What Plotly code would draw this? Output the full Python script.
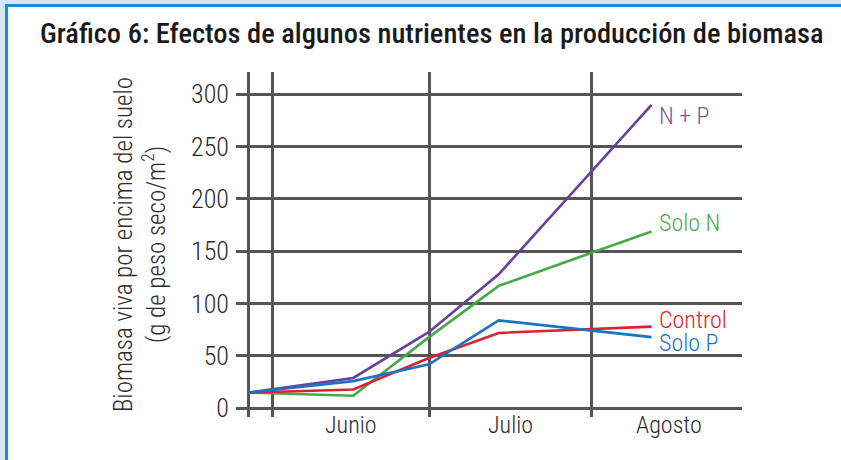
import plotly.graph_objects as go

# Sampling dates (season start, mid-June, start of July, mid-July, mid-August)
dates = ["2000-05-27 12:00", "2000-06-16 12:00", "2000-07-01 00:00",
         "2000-07-14 08:00", "2000-08-12 14:00"]

# Above-ground live biomass (g dry weight / m²)
np_vals = [15, 29, 73, 128, 290]
solo_n = [15, 12, 68, 117, 169]
control = [15, 18, 48, 72, 78]
solo_p = [15, 26, 42, 84, 68]

series_names = ["N + P", "Solo N", "Control", "Solo P"]
series_vals = [np_vals, solo_n, control, solo_p]
line_colors = ["#6b3f98", "#47a847", "#d9232e", "#1b74c0"]
label_colors = ["#7a52a6", "#4cab4a", "#d9232e", "#1b74c0"]
label_y = [279, 177, 84, 62]

months = ["Junio", "Julio", "Agosto"]
month_mid = ["2000-06-16 00:00", "2000-07-16 12:00", "2000-08-16 00:00"]
grid_dates = ["2000-05-27 10:00", "2000-06-01", "2000-07-01", "2000-08-01"]

y_ticks = [0, 50, 100, 150, 200, 250, 300]

FONT = "Roboto Condensed, Liberation Sans, Arial, sans-serif"
GRID = "#555555"
TXT = "#2b2b2b"
LIGHT = 300

fig = go.Figure()
for name, vals, col in zip(series_names, series_vals, line_colors):
    fig.add_trace(go.Scatter(x=dates, y=vals, mode="lines", name=name,
                             line=dict(color=col, width=2.6),
                             showlegend=False, hoverinfo="skip"))

annotations = []
for name, vals, col, ly in zip(series_names, series_vals, label_colors, label_y):
    annotations.append(dict(x=dates[-1], y=ly, xref="x", yref="y", text=name,
                            showarrow=False, xanchor="left", yanchor="middle",
                            xshift=5, font=dict(family=FONT, size=24, color=col,
                                                weight=LIGHT)))
for m, mx in zip(months, month_mid):
    annotations.append(dict(x=mx, y=0, xref="x", yref="paper", text=m,
                            showarrow=False, xanchor="center", yanchor="top",
                            yshift=8, font=dict(family=FONT, size=24, color=TXT,
                                                weight=LIGHT)))

# page background and framed white panel
W, H = 841 - 236 - 99, 460 - 72 - 43
def px(x):
    return (x - 236) / W
def py(y):
    return (417 - y) / H

shapes = [dict(type="rect", xref="paper", yref="paper", layer="below",
               x0=px(6.5), x1=px(860), y0=py(5.5), y1=py(480),
               fillcolor="white", line=dict(color="#1b8dd0", width=3))]

fig.update_layout(
    width=841, height=460,
    margin=dict(l=236, r=99, t=72, b=43),
    paper_bgcolor="#dde6f0",
    plot_bgcolor="rgba(0,0,0,0)",
    title=dict(text="Gráfico 6: Efectos de algunos nutrientes en la producción de biomasa",
               x=40 / 841, xanchor="left", xref="container",
               y=1 - 33 / 460, yanchor="middle", yref="container",
               font=dict(family=FONT, size=28.5, color="#1a1a1a", weight=500)),
    xaxis=dict(type="date", range=["2000-05-25 01:30", "2000-08-29 21:30"],
               tickvals=grid_dates, ticktext=["", "", "", ""],
               showgrid=True, gridcolor=GRID, gridwidth=2.5,
               zeroline=False, showline=False, ticks="", fixedrange=True),
    yaxis=dict(range=[-8.3, 321.3], tickvals=y_ticks,
               showgrid=True, gridcolor=GRID, gridwidth=2.5,
               zeroline=False, showline=False, ticks="",
               ticklabelstandoff=6,
               tickfont=dict(family=FONT, size=26, color=TXT, weight=LIGHT),
               title=dict(text="Biomasa viva por encima del suelo<br>(g de peso seco/m<sup>2</sup>)",
                          font=dict(family=FONT, size=25, color=TXT, weight=LIGHT),
                          standoff=18)),
    shapes=shapes,
    annotations=annotations,
)

fig.write_html("out.html")
